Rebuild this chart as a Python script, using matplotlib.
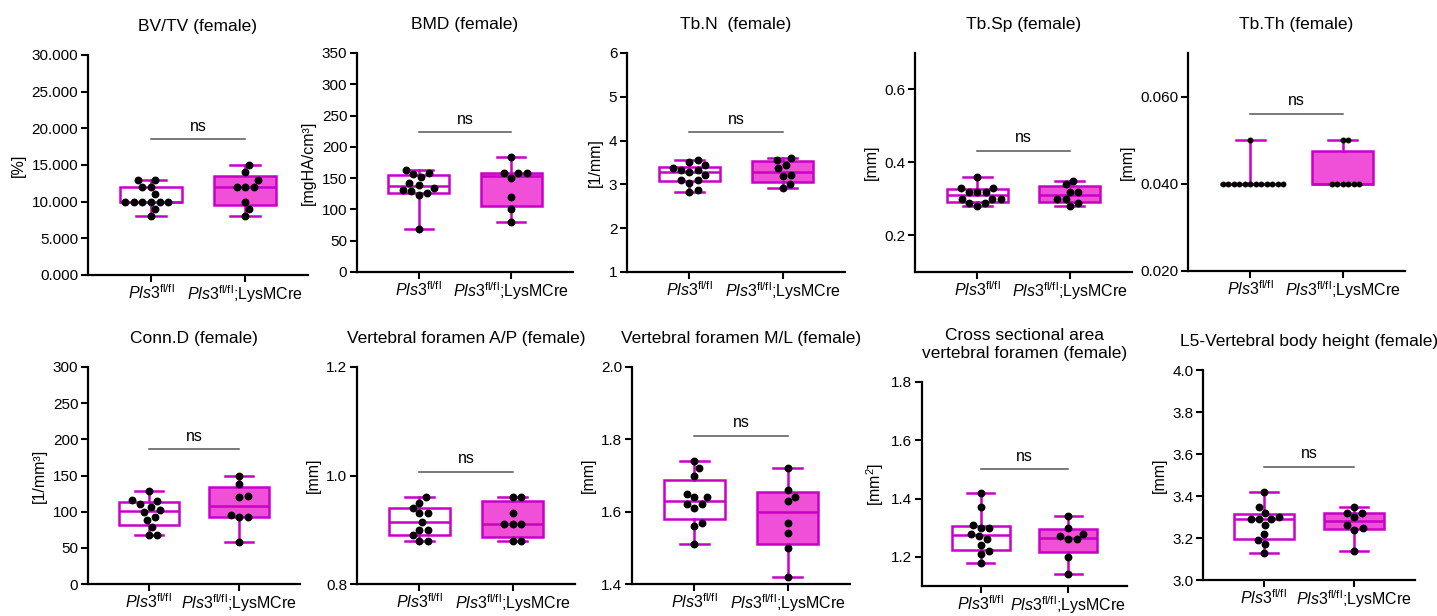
import matplotlib
matplotlib.use("Agg")
import matplotlib.pyplot as plt
import numpy as np

plt.rcParams['font.family'] = ['Liberation Sans', 'DejaVu Sans']
plt.rcParams['mathtext.fontset'] = 'custom'
plt.rcParams['mathtext.rm'] = 'Liberation Sans'
plt.rcParams['mathtext.it'] = 'Liberation Sans:italic'

# data (two groups per panel)
groups = [r"$\it{Pls3}^{\rm fl/fl}$", r"$\it{Pls3}^{\rm fl/fl}$;LysMCre"]

bvtv_flfl = [13, 13, 12, 12, 11, 10, 10, 10, 10, 10, 10, 9, 8]
bvtv_lysm = [15, 14, 13, 12, 12, 12, 10, 9, 8]
bmd_flfl = [163, 159, 157, 152, 142, 139, 135, 131, 129, 126, 123, 68]
bmd_lysm = [183, 158, 158, 158, 150, 120, 100, 80]
tbn_flfl = [3.56, 3.50, 3.44, 3.37, 3.33, 3.33, 3.29, 3.21, 3.10, 3.10, 3.04, 2.87, 2.82]
tbn_lysm = [3.61, 3.56, 3.44, 3.37, 3.21, 3.20, 3.01, 2.92]
tbsp_flfl = [0.36, 0.33, 0.33, 0.32, 0.32, 0.32, 0.30, 0.30, 0.30, 0.29, 0.29, 0.28]
tbsp_lysm = [0.35, 0.34, 0.32, 0.32, 0.30, 0.30, 0.29, 0.28]
tbth_flfl = [0.05] + [0.04] * 12
tbth_lysm = [0.05, 0.05] + [0.04] * 6
connd_flfl = [129, 116, 115, 110, 107, 102, 100, 92, 89, 79, 68, 68]
connd_lysm = [150, 138, 121, 120, 95, 92, 92, 58]
vfap_flfl = [0.96, 0.95, 0.94, 0.93, 0.93, 0.915, 0.90, 0.90, 0.89, 0.88, 0.88]
vfap_lysm = [0.96, 0.96, 0.93, 0.91, 0.91, 0.91, 0.88, 0.88]
vfml_flfl = [1.74, 1.72, 1.70, 1.65, 1.64, 1.64, 1.62, 1.62, 1.61, 1.57, 1.56, 1.51]
vfml_lysm = [1.72, 1.66, 1.64, 1.63, 1.57, 1.54, 1.50, 1.42]
csa_flfl = [1.42, 1.37, 1.31, 1.30, 1.30, 1.28, 1.27, 1.26, 1.24, 1.22, 1.21, 1.18]
csa_lysm = [1.34, 1.30, 1.28, 1.27, 1.26, 1.26, 1.20, 1.14]
l5_flfl = [3.42, 3.35, 3.32, 3.30, 3.29, 3.29, 3.29, 3.26, 3.22, 3.19, 3.17, 3.13]
l5_lysm = [3.35, 3.32, 3.32, 3.30, 3.26, 3.25, 3.24, 3.14]

titles = ["BV/TV (female)", "BMD (female)", "Tb.N  (female)", "Tb.Sp (female)",
          "Tb.Th (female)", "Conn.D (female)", "Vertebral foramen A/P (female)",
          "Vertebral foramen M/L (female)",
          "Cross sectional area\nvertebral foramen (female)",
          "L5-Vertebral body height (female)"]
ylabels = ["[%]", "[mgHA/cm³]", "[1/mm]", "[mm]", "[mm]", "[1/mm³]", "[mm]", "[mm]",
           "[mm$^2$]", "[mm]"]
series = [(bvtv_flfl, bvtv_lysm), (bmd_flfl, bmd_lysm), (tbn_flfl, tbn_lysm),
          (tbsp_flfl, tbsp_lysm), (tbth_flfl, tbth_lysm), (connd_flfl, connd_lysm),
          (vfap_flfl, vfap_lysm), (vfml_flfl, vfml_lysm), (csa_flfl, csa_lysm),
          (l5_flfl, l5_lysm)]
ylims = [(0, 30), (0, 350), (1, 6), (0.1, 0.7), (0.02, 0.07), (0, 300),
         (0.8, 1.2), (1.4, 2.0), (1.1, 1.8), (3.0, 4.0)]
yticks = [np.arange(0, 31, 5), np.arange(0, 351, 50), np.arange(1, 7, 1),
          [0.2, 0.4, 0.6], [0.02, 0.04, 0.06], np.arange(0, 301, 50),
          [0.8, 1.0, 1.2], [1.4, 1.6, 1.8, 2.0], [1.2, 1.4, 1.6, 1.8],
          [3.0, 3.2, 3.4, 3.6, 3.8, 4.0]]
yfmts = ["%.3f", "%d", "%d", "%.1f", "%.3f", "%d", "%.1f", "%.1f", "%.1f", "%.1f"]
ns_heights = [18.5, 223, 4.19, 0.432, 0.056, 186, 1.007, 1.81, 1.50, 3.54]

# axes boxes in pixels: left, right, top, bottom
W, H = 1437, 616
boxes_px = [(88, 308, 55, 275), (357, 573, 53, 272), (627, 845, 53, 272),
            (915, 1132, 53, 272), (1188, 1405, 53, 271), (88, 300, 367, 584),
            (357, 575, 367, 584), (632, 850, 367, 584), (922, 1127, 382, 586),
            (1203, 1415, 370, 580)]

LINE = "#c800c8"
FILL = "#f050d8"


def swarm(ax, x0, vals, d):
    pts = ax.transData.transform(np.column_stack([np.full(len(vals), x0), vals]))
    ys = pts[:, 1]
    xc = pts[0, 0]
    xs = np.zeros(len(vals))
    placed = []
    for i in np.argsort(ys, kind="stable"):
        cands = [xc]
        for px, py in placed:
            dy = ys[i] - py
            if abs(dy) < d:
                dx = np.sqrt(d * d - dy * dy)
                cands += [px + dx, px - dx]
        cands.sort(key=lambda c: abs(c - xc))
        for c in cands:
            if all((c - px) ** 2 + (ys[i] - py) ** 2 >= d * d - 1e-6 for px, py in placed):
                xs[i] = c
                break
        placed.append((xs[i], ys[i]))
    back = ax.transData.inverted().transform(np.column_stack([xs, ys]))
    return back[:, 0]


fig = plt.figure(figsize=(W / 100, H / 100), dpi=100)

for k in range(10):
    l, r, t, b = boxes_px[k]
    ax = fig.add_axes([l / W, 1 - b / H, (r - l) / W, (b - t) / H])
    ax.set_xlim(-0.67, 1.67)
    ax.set_ylim(*ylims[k])

    stats = []
    for vals in series[k]:
        v = np.array(vals, dtype=float)
        q1, med, q3 = np.percentile(v, [25, 50, 75], method="weibull")
        stats.append(dict(med=med, q1=q1, q3=q3, whislo=v.min(), whishi=v.max(), fliers=[]))
    bp = ax.bxp(stats, positions=[0, 1], widths=0.66, capwidths=0.31,
                patch_artist=True, showfliers=False,
                boxprops=dict(edgecolor=LINE, linewidth=1.8),
                whiskerprops=dict(color=LINE, linewidth=1.8),
                capprops=dict(color=LINE, linewidth=1.8),
                medianprops=dict(color=LINE, linewidth=1.8))
    bp["boxes"][0].set_facecolor("white")
    bp["boxes"][1].set_facecolor(FILL)

    d = 5.5 if k == 4 else 8.5
    s = 18 if k == 4 else 32
    for j, vals in enumerate(series[k]):
        xs = swarm(ax, j, vals, d)
        ax.scatter(xs, vals, s=s, color="black", zorder=4, linewidths=0)

    h = ns_heights[k]
    ax.plot([0, 1], [h, h], color="#555555", lw=1.1)
    ax.annotate("ns", (0.5, h), xytext=(0, 4), textcoords="offset points",
                ha="center", va="bottom", fontsize=11.5)

    ax.set_title(titles[k], fontsize=12.5, pad=17, linespacing=1.25)
    ax.set_ylabel(ylabels[k], fontsize=11.5, labelpad=4)
    ax.set_yticks(yticks[k])
    ax.set_yticklabels([yfmts[k] % v for v in yticks[k]])
    ax.set_xticks([0, 1])
    ax.set_xticklabels(groups)
    ax.tick_params(axis="both", labelsize=11, width=1.5, length=5, direction="out", pad=2)
    ax.tick_params(axis="x", length=5, pad=1, labelsize=11.5)
    for side in ["top", "right"]:
        ax.spines[side].set_visible(False)
    for side in ["left", "bottom"]:
        ax.spines[side].set_linewidth(1.6)

fig.savefig("out.png", dpi=100)
